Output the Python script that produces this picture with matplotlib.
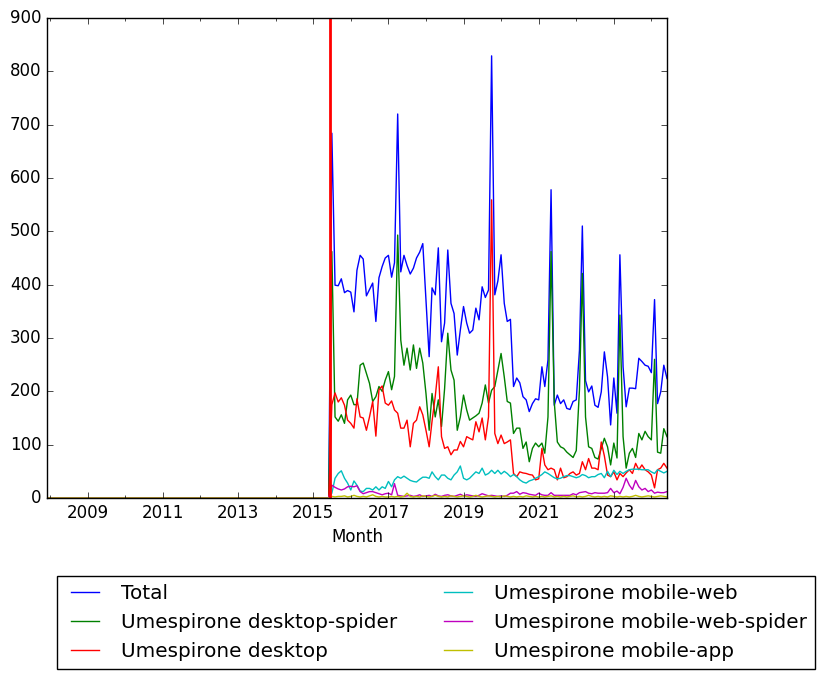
import matplotlib
matplotlib.use('Agg')
import matplotlib.pyplot as plt
import matplotlib.dates as mdates
import numpy as np
import pandas as pd
from datetime import datetime

plt.style.use('classic')

# monthly dates, series are zero before 2015-07
months = pd.date_range('2007-12-01', '2024-06-01', freq='MS')
start = pd.Timestamp('2015-07-01')
n_zero = int((months < start).sum())

total = [684, 399, 398, 411, 385, 389, 386, 349, 427, 455,
         448, 379, 391, 403, 331, 413, 434, 450, 455, 414,
         441, 720, 424, 455, 436, 420, 431, 450, 461, 477,
         371, 265, 394, 381, 469, 293, 328, 465, 365, 346,
         268, 315, 359, 328, 309, 315, 356, 334, 396, 376,
         390, 829, 381, 407, 456, 365, 331, 335, 209, 225,
         216, 190, 184, 162, 177, 186, 184, 246, 209, 259,
         578, 174, 193, 177, 184, 168, 166, 181, 184, 277,
         510, 220, 199, 210, 174, 170, 199, 274, 227, 137,
         225, 159, 456, 246, 171, 206, 206, 205, 262, 256,
         249, 247, 235, 372, 177, 199, 249, 224]

desktop_spider = [462, 152, 144, 156, 140, 184, 193, 175, 175, 249,
                  253, 234, 215, 181, 190, 209, 200, 221, 237, 203,
                  228, 493, 296, 249, 281, 240, 287, 243, 281, 253,
                  196, 127, 196, 152, 184, 134, 205, 309, 240, 221,
                  127, 152, 193, 165, 146, 150, 154, 159, 178, 212,
                  178, 202, 209, 240, 271, 227, 181, 178, 121, 131,
                  131, 93, 105, 68, 93, 103, 96, 103, 84, 152,
                  462, 180, 105, 96, 93, 86, 81, 76, 89, 203,
                  421, 152, 96, 93, 76, 73, 93, 112, 96, 62,
                  103, 75, 343, 115, 56, 84, 93, 76, 121, 109,
                  125, 115, 109, 260, 86, 84, 130, 115]

desktop = [175, 197, 180, 188, 174, 146, 140, 131, 186, 152,
           150, 127, 152, 181, 116, 203, 210, 178, 174, 182,
           165, 159, 131, 131, 146, 96, 140, 146, 171, 156,
           127, 96, 144, 190, 246, 115, 93, 96, 81, 90,
           90, 106, 96, 115, 112, 109, 143, 124, 150, 109,
           152, 559, 121, 102, 118, 102, 105, 109, 46, 40,
           49, 47, 46, 44, 43, 34, 36, 93, 62, 53,
           56, 53, 34, 56, 38, 40, 46, 49, 43, 46,
           68, 53, 74, 56, 56, 53, 105, 79, 43, 40,
           49, 34, 46, 40, 47, 53, 46, 65, 53, 62,
           53, 49, 43, 19, 53, 56, 65, 56]

mobile_web = [9, 37, 46, 51, 37, 28, 15, 32, 24, 13,
              12, 18, 18, 15, 21, 15, 21, 18, 31, 21,
              34, 40, 37, 41, 37, 33, 31, 30, 35, 39,
              39, 37, 49, 40, 34, 43, 43, 37, 34, 43,
              49, 60, 37, 34, 37, 43, 49, 46, 56, 43,
              46, 52, 46, 52, 45, 50, 46, 40, 44, 40,
              34, 30, 28, 32, 34, 37, 40, 44, 49, 46,
              42, 38, 36, 37, 40, 42, 42, 40, 38, 40,
              44, 42, 38, 40, 40, 44, 46, 38, 50, 40,
              52, 44, 50, 46, 50, 53, 54, 54, 54, 53,
              53, 53, 49, 46, 53, 50, 47, 50]

mobile_web_spider = [24, 20, 17, 15, 17, 21, 22, 21, 23, 12,
                     8, 10, 12, 12, 10, 8, 6, 8, 9, 6,
                     27, 5, 4, 3, 4, 5, 3, 4, 6, 3,
                     4, 5, 3, 7, 4, 3, 5, 6, 4, 3,
                     5, 7, 4, 6, 5, 4, 3, 5, 8, 6,
                     4, 5, 4, 3, 4, 3, 5, 9, 9, 12,
                     7, 10, 9, 7, 6, 5, 9, 6, 5, 5,
                     10, 5, 5, 5, 5, 5, 5, 8, 6, 10,
                     11, 12, 9, 8, 10, 9, 9, 9, 10, 18,
                     10, 13, 8, 20, 37, 24, 16, 33, 21, 15,
                     18, 12, 15, 9, 11, 10, 10, 12]

mobile_app = [3, 2, 3, 3, 4, 2, 3, 5, 3, 2,
              3, 2, 4, 6, 3, 2, 3, 2, 2, 3,
              2, 3, 2, 3, 9, 3, 2, 3, 2, 4,
              3, 2, 3, 5, 3, 2, 3, 2, 4, 3,
              2, 3, 4, 3, 2, 3, 5, 3, 2, 3,
              4, 3, 2, 3, 2, 4, 3, 2, 3, 2,
              3, 2, 4, 3, 2, 3, 2, 3, 2, 3,
              4, 2, 3, 2, 3, 2, 3, 4, 2, 3,
              2, 3, 5, 3, 2, 3, 2, 3, 2, 4,
              3, 2, 3, 2, 3, 2, 3, 5, 3, 2,
              3, 4, 3, 2, 3, 4, 3, 2]

series = [
    ('Total', total, 'b'),
    ('Umespirone desktop-spider', desktop_spider, 'g'),
    ('Umespirone desktop', desktop, 'r'),
    ('Umespirone mobile-web', mobile_web, 'c'),
    ('Umespirone mobile-web-spider', mobile_web_spider, 'm'),
    ('Umespirone mobile-app', mobile_app, 'y'),
]

fig = plt.figure(figsize=(8.25, 6.79), dpi=100, facecolor='white')
ax = fig.add_axes([47 / 825, 1 - 498 / 679, 620 / 825, 480 / 679])

for name, vals, col in series:
    y = np.concatenate([np.zeros(n_zero), np.array(vals, dtype=float)])
    ax.plot(months, y, color=col, label=name)

# marker where the data begins
ax.axvline(pd.Timestamp('2015-06-15'), color='r', linewidth=2)

ax.set_xlim(months[0], months[-1])
ax.set_ylim(0, 900)
ax.set_xticks([datetime(y, 1, 1) for y in range(2009, 2024, 2)])
ax.xaxis.set_minor_locator(mdates.YearLocator(1))
ax.xaxis.set_major_formatter(mdates.DateFormatter('%Y'))
ax.set_xlabel('Month')

ax.legend(loc='upper center', bbox_to_anchor=(436 / 825, 1 - 576 / 679),
          bbox_transform=fig.transFigure, borderaxespad=0,
          ncol=2, fontsize=14.4)

fig.savefig('out.png', dpi=100, facecolor='white')
